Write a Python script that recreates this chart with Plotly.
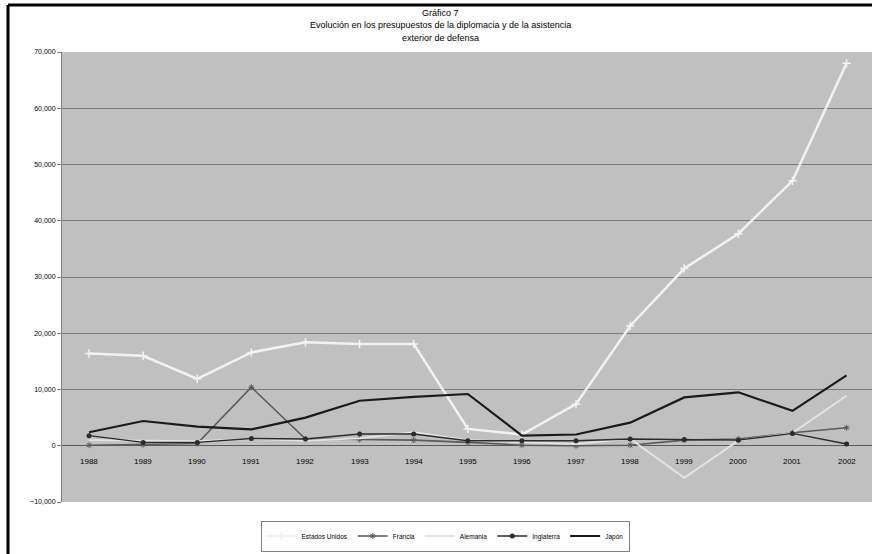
import plotly.graph_objects as go

# Years on the category axis
years = ["1988", "1989", "1990", "1991", "1992", "1993", "1994", "1995",
         "1996", "1997", "1998", "1999", "2000", "2001", "2002"]

# Series values
estados_unidos = [16400, 16000, 11900, 16600, 18400, 18100, 18100, 3000,
                  2000, 7400, 21300, 31500, 37700, 47100, 68000]
francia = [100, 200, 400, 10400, 1200, 1100, 1000, 600,
           100, 0, 100, 1000, 1200, 2300, 3200]
alemania = [1000, 900, 800, 1200, 900, 1300, 2400, 1000,
            600, 300, 1250, -5700, 900, 2300, 8900]
inglaterra = [1800, 600, 600, 1300, 1200, 2100, 2100, 900,
              900, 900, 1200, 1100, 1000, 2200, 300]
japon = [2400, 4400, 3400, 2900, 5000, 8000, 8700, 9200,
         1800, 2000, 4100, 8600, 9500, 6200, 12500]

y_ticks = [-10000, 0, 10000, 20000, 30000, 40000, 50000, 60000, 70000]

title_lines = ["Gráfico 7",
               "Evolución en los presupuestos de la diplomacia y de la asistencia",
               "exterior de defensa"]

FONT = "Liberation Sans, Arial, sans-serif"

# Plot-area geometry in pixels
PL, PR, PT, PB = 62, 872, 52, 502
PW, PH = PR - PL, PB - PT


def px_x(px):
    return (px - PL) / PW


def px_y(py):
    return (PB - py) / PH


fig = go.Figure()

fig.add_trace(go.Scatter(
    x=years, y=estados_unidos, name="Estados Unidos", mode="lines+markers",
    line=dict(color="#f2f2f2", width=2.5),
    marker=dict(symbol="cross-thin", size=6, line=dict(color="#f2f2f2", width=1.5)),
))
fig.add_trace(go.Scatter(
    x=years, y=francia, name="Francia", mode="lines+markers",
    line=dict(color="#5a5a5a", width=1.6),
    marker=dict(symbol="asterisk", size=5, line=dict(color="#5a5a5a", width=1)),
))
fig.add_trace(go.Scatter(
    x=years, y=alemania, name="Alemania", mode="lines",
    line=dict(color="#e4e4e4", width=1.8),
))
fig.add_trace(go.Scatter(
    x=years, y=inglaterra, name="Inglaterra", mode="lines+markers",
    line=dict(color="#2b2b2b", width=1.4),
    marker=dict(symbol="circle", size=5, color="#2b2b2b"),
))
fig.add_trace(go.Scatter(
    x=years, y=japon, name="Japón", mode="lines",
    line=dict(color="#1a1a1a", width=2.2),
))

# Category labels sit just under the zero line, inside the plot area
for i, yr in enumerate(years):
    fig.add_annotation(
        x=i, y=0, xref="x", yref="y", text=yr, showarrow=False,
        yanchor="top", yshift=-9, font=dict(family=FONT, size=8, color="#000000"),
    )

# Title block
for i, line in enumerate(title_lines):
    fig.add_annotation(
        x=px_x(440), y=px_y(13 + i * 12.5), xref="paper", yref="paper", text=line,
        showarrow=False, yanchor="middle",
        font=dict(family=FONT, size=9, color="#000000"),
    )

fig.update_layout(
    width=872, height=554,
    margin=dict(l=PL, r=872 - PR, t=PT, b=554 - PB),
    paper_bgcolor="#ffffff",
    plot_bgcolor="#c0c0c0",
    showlegend=True,
    legend=dict(
        orientation="h", x=px_x(445), xanchor="center", y=px_y(536), yanchor="middle",
        bgcolor="#ffffff", bordercolor="#808080", borderwidth=1,
        font=dict(family=FONT, size=6.5, color="#000000"),
        itemwidth=30, tracegroupgap=0,
    ),
    xaxis=dict(
        type="category", range=[-0.5, 14.47], showticklabels=False,
        showgrid=False, zeroline=False, showline=False, ticks="",
    ),
    yaxis=dict(
        range=[-10000, 70000], tickvals=y_ticks, tickformat=",d",
        showgrid=True, gridcolor="#7a7a7a", gridwidth=1,
        zeroline=True, zerolinecolor="#5a5a5a", zerolinewidth=1,
        showline=True, linecolor="#808080", linewidth=1,
        ticks="outside", ticklen=4, tickcolor="#808080",
        tickfont=dict(family=FONT, size=7, color="#000000"),
    ),
)

# Chart frame (left and top edges)
fig.add_shape(type="line", xref="paper", yref="paper",
              x0=px_x(8), x1=px_x(872), y0=px_y(5), y1=px_y(5),
              line=dict(color="#000000", width=3))
fig.add_shape(type="line", xref="paper", yref="paper",
              x0=px_x(8), x1=px_x(8), y0=px_y(5), y1=px_y(560),
              line=dict(color="#000000", width=3))

fig.write_html("out.html")
